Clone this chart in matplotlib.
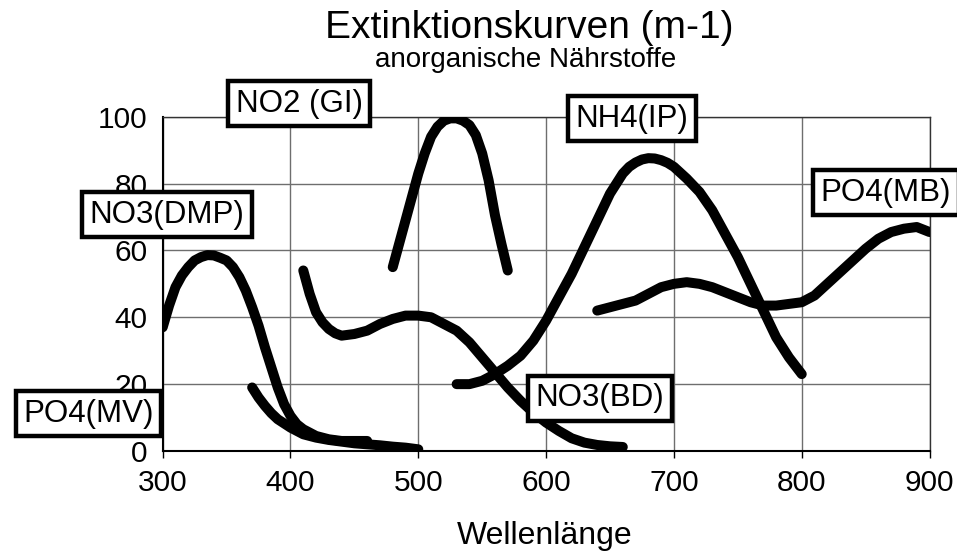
import matplotlib
matplotlib.use("Agg")
import matplotlib.pyplot as plt

plt.rcParams['font.family'] = ['Liberation Sans', 'DejaVu Sans']

# Absorption curves of the inorganic nutrient methods (wavelength in nm)
no3_dmp_x = [300, 305, 310, 315, 320, 325, 330, 335, 340, 345, 350, 355, 360, 365, 370,
             375, 380, 385, 390, 395, 400, 405, 410, 420, 430, 440, 450, 460]
no3_dmp_y = [37, 43.5, 49, 52.5, 55, 57, 58, 58.6, 58.5, 57.8, 57, 55, 52, 48, 43,
             37.5, 31, 25, 19, 14, 10.5, 8, 6.5, 4.5, 3.5, 3, 3, 3]

po4_mv_x = [370, 375, 380, 385, 390, 400, 410, 420, 430, 440, 450, 460, 470, 480, 490, 500]
po4_mv_y = [19, 16, 13.5, 11.3, 9.5, 7, 5, 4, 3.3, 2.8, 2.3, 2, 1.7, 1.3, 1, 0.5]

no3_bd_x = [410, 415, 420, 425, 430, 435, 440, 450, 460, 470, 480, 490, 500, 510, 520,
            530, 540, 550, 560, 570, 580, 590, 600, 610, 620, 630, 640, 650, 660]
no3_bd_y = [54, 47, 41.5, 38.5, 36.5, 35.2, 34.5, 35, 36, 38, 39.5, 40.5, 40.5, 40, 38,
            36, 32.5, 28, 23.5, 19, 15, 11.5, 8.5, 6, 3.8, 2.5, 1.8, 1.4, 1.2]

no2_gi_x = [480, 485, 490, 495, 500, 505, 510, 515, 520, 525, 530, 535, 540, 545, 550,
            555, 560, 565, 570]
no2_gi_y = [55, 62, 69, 76, 83, 89, 94, 97, 98.8, 99.5, 99.5, 98.8, 97.5, 94.5, 89,
            81, 70.5, 62, 54]

nh4_ip_x = [530, 540, 550, 560, 570, 580, 590, 600, 610, 620, 630, 640, 650, 660, 665,
            670, 675, 680, 685, 690, 695, 700, 710, 720, 730, 740, 750, 760, 770, 780,
            790, 800]
nh4_ip_y = [20, 20, 21, 23, 25.5, 28.5, 33, 39, 46, 53, 61, 69, 77, 83, 85,
            86.3, 87.2, 87.6, 87.5, 87, 86.2, 85, 81.5, 77.5, 72, 65, 58, 50, 42, 34,
            28, 23]

po4_mb_x = [640, 650, 660, 670, 680, 690, 700, 710, 720, 730, 740, 750, 760, 770, 780,
            790, 800, 810, 820, 830, 840, 850, 860, 870, 880, 890, 900]
po4_mb_y = [42, 43, 44, 45, 47, 49, 50, 50.5, 50, 49, 47.5, 46, 44.5, 43.5, 43.5,
            44, 44.5, 46.5, 50, 53.5, 57, 60.5, 63.5, 65.5, 66.5, 67, 65.5]

series = [
    (no3_dmp_x, no3_dmp_y),
    (po4_mv_x, po4_mv_y),
    (no3_bd_x, no3_bd_y),
    (no2_gi_x, no2_gi_y),
    (nh4_ip_x, nh4_ip_y),
    (po4_mb_x, po4_mb_y),
]

# Curve names and where their boxed labels sit (data coordinates)
label_names = ["NO3(DMP)", "PO4(MV)", "NO3(BD)", "NO2 (GI)", "NH4(IP)", "PO4(MB)"]
label_x = [303.5, 242, 642, 407, 667, 866]
label_y = [70.7, 11.1, 15.8, 103.8, 99.4, 77.3]

x_ticks = [300, 400, 500, 600, 700, 800, 900]
y_ticks = [0, 20, 40, 60, 80, 100]

fig = plt.figure(figsize=(9.57, 5.51), dpi=100)
ax = fig.add_axes([0.170, 0.1815, 0.8013, 0.6067])

for xs, ys in series:
    ax.plot(xs, ys, color='black', lw=7.2, solid_capstyle='round',
            solid_joinstyle='round', zorder=3)

for name, lx, ly in zip(label_names, label_x, label_y):
    ax.text(lx, ly, name, ha='center', va='center', fontsize=22.5, zorder=5,
            clip_on=False,
            bbox=dict(boxstyle='square,pad=0.24', facecolor='white',
                      edgecolor='black', linewidth=3.2))

ax.set_xlim(300, 900)
ax.set_ylim(0, 100)
ax.set_xticks(x_ticks)
ax.set_yticks(y_ticks)
ax.tick_params(axis='x', length=5, width=1, pad=8, labelsize=21.5)
ax.tick_params(axis='y', length=0, pad=11, labelsize=21.5)
ax.grid(True, color='#6e6e6e', linewidth=1)
ax.set_axisbelow(True)
for side in ['left', 'bottom']:
    ax.spines[side].set_linewidth(1.5)
for side in ['top', 'right']:
    ax.spines[side].set_linewidth(1.0)
    ax.spines[side].set_color('#333333')

fig.text(0.553, 1 - 38 / 551, "Extinktionskurven (m-1)", ha='center',
         va='baseline', fontsize=28)
fig.text(0.5496, 1 - 67 / 551, "anorganische Nährstoffe", ha='center',
         va='baseline', fontsize=20)
fig.text(0.5695, 1 - 544 / 551, "Wellenlänge", ha='center', va='baseline',
         fontsize=23)

fig.savefig("out.png", dpi=100)
